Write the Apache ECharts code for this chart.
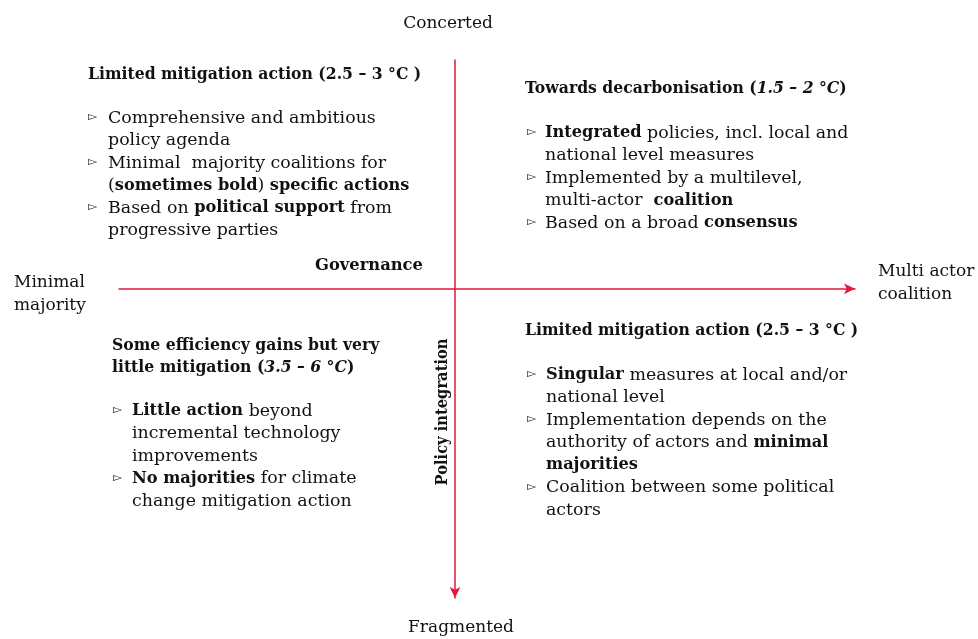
<!DOCTYPE html>
<html lang="en">
<head>
    <meta charset="UTF-8">
    <title>Governance and policy integration</title>
    <style>
        html, body { margin: 0; padding: 0; background: #fff; }
        #chartContainer { width: 978px; height: 639px; }
    </style>
    <script src="https://cdn.jsdelivr.net/npm/echarts@6/dist/echarts.min.js"></script>
</head>
<body>
    <div id="chartContainer"></div>
    <script>
        // axis end captions
        const xEnds = ['Minimal\nmajority', 'Multi actor\ncoalition'];
        const yEnds = ['Concerted', 'Fragmented'];
        const axisNames = ['Governance', 'Policy integration'];

        // quadrant headings ({b|..} bold, {i|..} bold italic)
        const headings = [
            ['{b|Limited mitigation action (2.5 – 3 °C )}'],
            ['{b|Towards decarbonisation (}{i|1.5 – 2 °C}{b|)}'],
            ['{b|Some efficiency gains but very}', '{b|little mitigation (}{i|3.5 – 6 °C}{b|)}'],
            ['{b|Limited mitigation action (2.5 – 3 °C )}']
        ];

        // bullet points, one array of lines per bullet
        const bullets = [
            [
                ['Comprehensive and ambitious', 'policy agenda'],
                ['Minimal  majority coalitions for', '({s|sometimes bold}) {s|specific actions}'],
                ['Based on {s|political support} from', 'progressive parties']
            ],
            [
                ['{s|Integrated} policies, incl. local and', 'national level measures'],
                ['Implemented by a multilevel,', 'multi-actor  {s|coalition}'],
                ['Based on a broad {s|consensus}']
            ],
            [
                ['{s|Little action} beyond', 'incremental technology', 'improvements'],
                ['{s|No majorities} for climate', 'change mitigation action']
            ],
            [
                ['{s|Singular} measures at local and/or', 'national level'],
                ['Implementation depends on the', 'authority of actors and {s|minimal}', '{s|majorities}'],
                ['Coalition between some political', 'actors']
            ]
        ];

        // layout of each quadrant block (pixels)
        const blocks = [
            { headX: 88, headY: 74, bodyY: 118, bulletX: 88, textX: 108 },
            { headX: 525, headY: 88, bodyY: 133, bulletX: 527, textX: 545 },
            { headX: 112, headY: 345, bodyY: 411, bulletX: 113, textX: 132 },
            { headX: 525, headY: 330, bodyY: 375, bulletX: 527, textX: 546 }
        ];

        const FONT = '"DejaVu Serif", "Liberation Serif", serif';
        const RED = '#e4173d';
        const INK = '#111';
        const SIZE = 17.4;     // body text
        const BOLD = 16.2;     // bold words inside body text
        const HEAD_SQUEEZE = 0.9;   // DejaVu bold runs wide, narrow headings a bit
        const LH = 22.5;

        const rich = {
            b: { fontFamily: FONT, fontSize: SIZE, fontWeight: 'bold', fill: INK, lineHeight: LH },
            i: { fontFamily: FONT, fontSize: SIZE, fontWeight: 'bold', fontStyle: 'italic', fill: INK, lineHeight: LH },
            s: { fontFamily: FONT, fontSize: BOLD, fontWeight: 'bold', fill: INK, lineHeight: LH }
        };

        function textEl(x, y, text, extra) {
            return {
                type: 'text',
                x: x,
                y: y,
                silent: true,
                style: Object.assign({
                    text: text,
                    fontFamily: FONT,
                    fontSize: SIZE,
                    fill: INK,
                    lineHeight: LH,
                    align: 'left',
                    verticalAlign: 'middle',
                    rich: rich
                }, extra || {})
            };
        }

        const graphics = [];
        blocks.forEach((blk, q) => {
            headings[q].forEach((line, k) => {
                const el = textEl(blk.headX, blk.headY + k * LH, line);
                el.scaleX = HEAD_SQUEEZE;
                graphics.push(el);
            });
            let row = 0;
            bullets[q].forEach(item => {
                graphics.push(textEl(blk.bulletX, blk.bodyY + row * LH - 1, '▻',
                    { fontFamily: '"DejaVu Sans", sans-serif', fontSize: 12, fill: '#222' }));
                item.forEach(line => {
                    graphics.push(textEl(blk.textX, blk.bodyY + row * LH, line));
                    row++;
                });
            });
        });

        // captions at the ends of the axes
        graphics.push(textEl(448, 24, yEnds[0], { align: 'center', fontSize: 17 }));
        graphics.push(textEl(461, 628, yEnds[1], { align: 'center', fontSize: 17 }));
        graphics.push(textEl(14, 294, xEnds[0], { fontSize: 17 }));
        graphics.push(textEl(878, 283, xEnds[1], { fontSize: 17 }));
        const hname = textEl(315, 266, axisNames[0], { fontWeight: 'bold', fontSize: 17 });
        hname.scaleX = 0.96;
        graphics.push(hname);
        const vname = textEl(443, 412, axisNames[1], { fontWeight: 'bold', fontSize: 16.5, align: 'center' });
        vname.rotation = Math.PI / 2;
        vname.scaleX = 0.89;
        graphics.push(vname);

        var chartDom = document.getElementById('chartContainer');
        var myChart = echarts.init(chartDom);

        const axisCommon = {
            type: 'value',
            axisTick: { show: false },
            axisLabel: { show: false },
            splitLine: { show: false },
            axisLine: {
                show: true,
                onZero: true,
                symbolSize: [8, 11],
                lineStyle: { color: RED, width: 1.5 }
            }
        };

        const xAxis = Object.assign({}, axisCommon, { min: -0.84, max: 1 });
        xAxis.axisLine = Object.assign({}, axisCommon.axisLine, { symbol: ['none', 'arrow'] });
        const yAxis = Object.assign({}, axisCommon, { min: -0.74, max: 1, inverse: true });
        yAxis.axisLine = Object.assign({}, axisCommon.axisLine, { symbol: ['arrow', 'none'] });

        const option = {
            animation: false,
            grid: { left: 119, right: 123, top: 60, bottom: 41 },
            xAxis: xAxis,
            yAxis: yAxis,
            series: [{ type: 'scatter', data: [], silent: true }],
            graphic: graphics
        };

        myChart.setOption(option);
    </script>
</body>
</html>
